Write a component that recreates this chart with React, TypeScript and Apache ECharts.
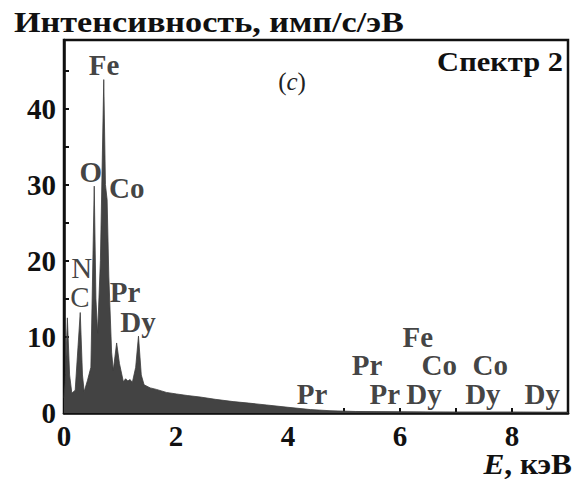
import React, { useEffect, useRef } from "react";
import * as echarts from "echarts";

const energy = [0.0, 0.02, 0.06, 0.1, 0.14, 0.2, 0.29, 0.33, 0.36, 0.42, 0.48, 0.54, 0.57, 0.6, 0.65, 0.71, 0.74, 0.77, 0.8, 0.85, 0.88, 0.94, 0.99, 1.06, 1.1, 1.14, 1.18, 1.22, 1.28, 1.33, 1.38, 1.43, 1.54, 1.65, 1.83, 2.01, 2.2, 2.43, 2.7, 3.02, 3.3, 3.62, 4.0, 4.4, 4.75, 5.2, 6.0, 7.0, 8.0, 9.0];
const intensity = [2, 4, 12.5, 5, 2.6, 3, 13.2, 5, 2.8, 4.3, 6, 29.8, 15, 10.5, 20, 43.8, 30, 28, 18, 8, 5.6, 9.2, 6.5, 4.1, 4.5, 4.2, 4.4, 4.0, 6, 10.1, 5, 3.7, 3.3, 3.1, 2.7, 2.5, 2.3, 2.1, 1.8, 1.5, 1.3, 1.05, 0.75, 0.45, 0.3, 0.2, 0.15, 0.1, 0.1, 0.05];

const peakNames = ["Fe", "O", "Co", "N", "C", "Pr", "Dy", "Fe", "Pr", "Co", "Co", "Pr", "Pr", "Dy", "Dy", "Dy"];
const peakX = [0.714, 0.477, 1.12, 0.316, 0.286, 1.09, 1.32, 6.32, 5.41, 6.7, 7.61, 4.43, 5.73, 6.43, 7.48, 8.54];
const peakY = [45.7, 31.6, 29.6, 19.1, 15.3, 15.9, 12.0, 10.0, 6.3, 6.3, 6.3, 2.45, 2.45, 2.45, 2.45, 2.45];

const xTicks = [0, 2, 4, 6, 8];
const yTicks = [0, 10, 20, 30, 40];

const FONT = "Liberation Serif";

export default function App() {
  const ref = useRef<HTMLDivElement>(null);
  useEffect(() => {
    if (!ref.current) return;
    const chart = echarts.init(ref.current, null, { renderer: "svg" });
    chart.setOption({
      animation: false,
      backgroundColor: "#fff",
      grid: {
        left: 64,
        right: 19,
        top: 40,
        bottom: 69,
        show: true,
        borderColor: "#111",
        borderWidth: 2.5,
        backgroundColor: "transparent",
      },
      xAxis: {
        type: "value",
        min: 0,
        max: 9,
        interval: 1,
        axisLine: { show: true, lineStyle: { color: "#111", width: 2.5 } },
        axisTick: { show: true, inside: true, length: 5, lineStyle: { color: "#111", width: 2 } },
        axisLabel: {
          margin: 8,
          fontFamily: FONT,
          fontWeight: "bold",
          fontSize: 29,
          color: "#111",
          formatter: (v: number) => (xTicks.includes(v) ? String(v) : ""),
        },
        splitLine: { show: false },
      },
      yAxis: {
        type: "value",
        min: 0,
        max: 49,
        interval: 5,
        axisLine: { show: true, lineStyle: { color: "#111", width: 2.5 } },
        axisTick: { show: true, inside: true, length: 5, lineStyle: { color: "#111", width: 2 } },
        axisLabel: {
          margin: 8,
          fontFamily: FONT,
          fontWeight: "bold",
          fontSize: 29,
          color: "#111",
          formatter: (v: number) => (yTicks.includes(v) ? String(v) : ""),
        },
        splitLine: { show: false },
      },
      series: [
        {
          type: "line",
          data: energy.map((e, i) => [e, intensity[i]]),
          showSymbol: false,
          symbol: "none",
          lineStyle: { color: "#3c3c3c", width: 0.8 },
          areaStyle: { color: "#434343", opacity: 1 },
          z: 1,
        },
        {
          type: "scatter",
          symbolSize: 0,
          itemStyle: { color: "transparent" },
          data: peakNames.map((n, i) => ({
            name: n,
            value: [peakX[i], peakY[i]],
            label: n === "N" || n === "C" ? { fontWeight: "normal" } : undefined,
          })),
          label: {
            show: true,
            position: "inside",
            formatter: (p: any) => p.name,
            fontFamily: FONT,
            fontWeight: "bold",
            fontSize: 29,
            lineHeight: 24,
            color: "#111",
            textBorderWidth: 0,
            textBorderColor: "transparent",
          },
          z: 3,
        },
      ],
      graphic: [
        {
          type: "text",
          x: 14,
          y: 8,
          scaleX: 1.18,
          style: {
            text: "Интенсивность, имп/с/эВ",
            font: `bold 29px ${FONT}`,
            fill: "#111",
            align: "left",
            verticalAlign: "top",
          },
        },
        {
          type: "text",
          x: 563,
          y: 48,
          scaleX: 1.13,
          style: {
            text: "Спектр 2",
            font: `bold 27px ${FONT}`,
            fill: "#111",
            align: "right",
            verticalAlign: "top",
          },
        },
        {
          type: "text",
          x: 292,
          y: 69,
          style: {
            text: "{r|(}{i|c}{r|)}",
            align: "center",
            verticalAlign: "top",
            rich: {
              r: { font: `25px ${FONT}`, fill: "#222" },
              i: { font: `italic 25px ${FONT}`, fill: "#222" },
            },
          },
        },
        {
          type: "text",
          x: 572,
          y: 450,
          scaleX: 1.08,
          style: {
            text: "{i|E}{b|, кэВ}",
            align: "right",
            verticalAlign: "top",
            rich: {
              i: { font: `italic bold 29px ${FONT}`, fill: "#111" },
              b: { font: `bold 29px ${FONT}`, fill: "#111" },
            },
          },
        },
      ],
    });
    return () => chart.dispose();
  }, []);
  return <div ref={ref} style={{ width: 587, height: 482, position: "absolute", left: 0, top: 0 }} />;
}
